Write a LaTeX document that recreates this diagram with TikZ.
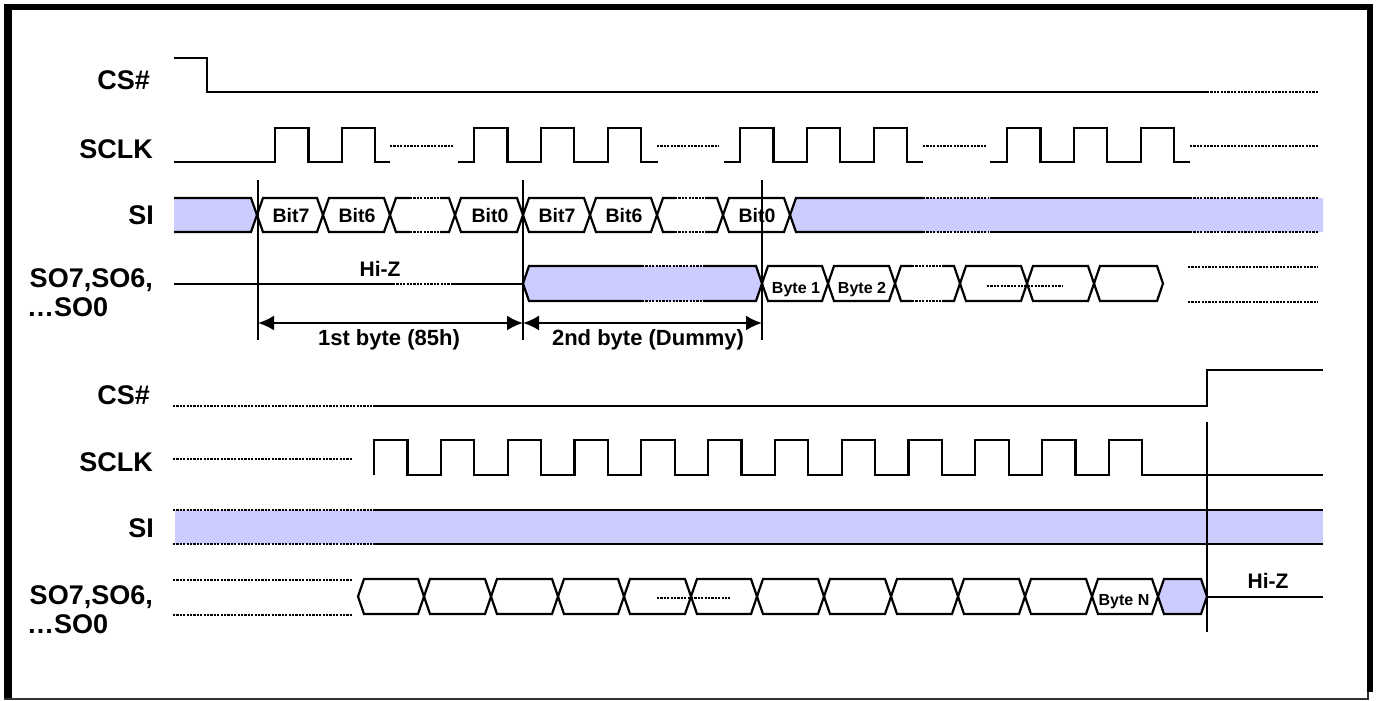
\documentclass[tikz,border=0pt]{standalone}
\usepackage{fontspec}
\setmainfont{Liberation Sans}
\usetikzlibrary{arrows.meta}
\definecolor{lav}{RGB}{204,204,255}
\tikzset{
  sig/.style={line width=2.2pt, line join=miter},
  dotsig/.style={line width=2.4pt, dash pattern=on 2.2pt off 1.2pt},
  lbl/.style={anchor=base east, font=\bfseries\fontsize{27}{30}\selectfont, inner sep=0pt},
  lblw/.style={anchor=base west, font=\bfseries\fontsize{27}{30}\selectfont, inner sep=0pt},
  bit/.style={anchor=base, font=\bfseries\fontsize{19.5}{22}\selectfont, inner sep=0pt},
  byt/.style={anchor=base, font=\bfseries\fontsize{16}{18}\selectfont, inner sep=0pt},
  hiz/.style={anchor=base, font=\bfseries\fontsize{21}{24}\selectfont, inner sep=0pt},
  dimtxt/.style={anchor=base, font=\bfseries\fontsize{22}{25}\selectfont, inner sep=0pt},
  marker/.style={line width=2pt},
  dimarrow/.style={line width=2.2pt, {Latex[length=16pt,width=15pt]}-{Latex[length=16pt,width=15pt]}},
}
% hexagon: x1, x2, ymid, half height
\newcommand\Hx[4]{\draw[sig] (#1,#3) -- (#1+6,#3-#4) -- (#2-6,#3-#4) -- (#2,#3) -- (#2-6,#3+#4) -- (#1+6,#3+#4) -- cycle;}
% hexagon with dotted part on top and bottom: x1,x2,ymid,half,a,b
\newcommand\HxD[6]{%
  \draw[sig] (#5,#3-#4) -- (#1+6,#3-#4) -- (#1,#3) -- (#1+6,#3+#4) -- (#5,#3+#4);
  \draw[sig] (#6,#3-#4) -- (#2-6,#3-#4) -- (#2,#3) -- (#2-6,#3+#4) -- (#6,#3+#4);
  \draw[dotsig] (#5,#3-#4) -- (#6,#3-#4);
  \draw[dotsig] (#5,#3+#4) -- (#6,#3+#4);}
% filled hex
\newcommand\HxFill[4]{\fill[lav] (#1,#3) -- (#1+6,#3-#4) -- (#2-6,#3-#4) -- (#2,#3) -- (#2-6,#3+#4) -- (#1+6,#3+#4) -- cycle;}
% clock: start, first rise, n pulses, end, ylow, yhigh
\newcommand\Clk[6]{\draw[sig] (#1,#5) \foreach \k in {1,...,#3}{ -- ({#2+66.8*(\k-1)},#5) -- ({#2+66.8*(\k-1)},#6) -- ({#2+66.8*(\k-1)+33.4},#6) -- ({#2+66.8*(\k-1)+33.4},#5)} -- (#4,#5);}
\begin{document}
\begin{tikzpicture}[x=1pt,y=-1pt]
\useasboundingbox (0,0) rectangle (1377,701);
\fill[white] (0,0) rectangle (1377,701);
% frame
\fill[black] (4,4) rectangle (12,700);
\fill[black] (4,4) rectangle (1373,10);
\fill[black] (1367,4) rectangle (1373,692);
\draw[line width=2pt, black!80] (1368,692) -- (1368,699) -- (4,699);

% ===== labels =====
\node[lbl] (lcs1) at (150,90) {CS\#};
\node[lbl] (lsclk1) at (153,158) {SCLK};
\node[lbl] (lsi1) at (154,224) {SI};
\node[lbl] (lso1) at (153,287) {SO7,SO6,};
\node[lblw] (lsoo1) at (27,316) {…SO0};
\node[lbl] (lcs2) at (150,404) {CS\#};
\node[lbl] (lsclk2) at (153,471) {SCLK};
\node[lbl] (lsi2) at (154,537) {SI};
\node[lbl] (lso2) at (153,604) {SO7,SO6,};
\node[lblw] (lsoo2) at (27,633) {…SO0};

% ===== top CS# =====
\draw[sig] (174,58) -- (207,58) -- (207,92) -- (1207,92);
\draw[dotsig] (1207,92) -- (1318,92);

% ===== top SCLK =====
\Clk{174}{275}{2}{390}{162}{128}
\Clk{458}{474}{3}{658}{162}{128}
\Clk{724}{740}{3}{923}{162}{128}
\Clk{990}{1007}{3}{1190}{162}{128}
\draw[dotsig] (390,146) -- (453,146);
\draw[dotsig] (657,146) -- (719,146);
\draw[dotsig] (923,146) -- (987,146);
\draw[dotsig] (1190,146) -- (1318,146);

% ===== top SI =====
\fill[lav] (174,198) -- (251,198) -- (257,215) -- (251,232) -- (174,232) -- cycle;
\draw[sig] (174,198) -- (251,198) -- (257,215) -- (251,232) -- (174,232);
\fill[lav] (790,215) -- (796,198) -- (1323,198) -- (1323,232) -- (796,232) -- cycle;
\draw[sig] (923,198) -- (796,198) -- (790,215) -- (796,232) -- (923,232);
\draw[sig] (990,198) -- (1190,198);
\draw[sig] (990,232) -- (1190,232);
\draw[dotsig] (923,198) -- (988,198);
\draw[dotsig] (923,232) -- (988,232);
\draw[dotsig] (1190,198) -- (1318,198);
\draw[dotsig] (1190,232) -- (1318,232);
\Hx{257}{323}{215}{17}
\Hx{323}{390}{215}{17}
\HxD{390}{455}{215}{17}{410}{440}
\Hx{455}{523}{215}{17}
\Hx{523}{590}{215}{17}
\Hx{590}{657}{215}{17}
\HxD{657}{723}{215}{17}{675}{705}
\Hx{723}{790}{215}{17}
\node[bit] (b7a) at (291,222) {Bit7};
\node[bit] (b6a) at (357,222) {Bit6};
\node[bit] (b0a) at (490,222) {Bit0};
\node[bit] (b7b) at (557,222) {Bit7};
\node[bit] (b6b) at (624,222) {Bit6};
\node[bit] (b0b) at (757,222) {Bit0};

% ===== top SO =====
\draw[sig] (174,284) -- (393,284);
\draw[dotsig] (393,284) -- (452,284);
\draw[sig] (452,284) -- (523,284);
\HxFill{523}{762}{283.5}{17.5}
\HxD{523}{762}{283.5}{17.5}{642}{703}
\Hx{762}{828}{283.5}{17.5}
\Hx{828}{895}{283.5}{17.5}
\HxD{895}{960}{283.5}{17.5}{912}{942}
\Hx{960}{1027}{283.5}{17.5}
\Hx{1027}{1094}{283.5}{17.5}
\Hx{1094}{1163}{283.5}{17.5}
\draw[dotsig] (987,286) -- (1062,286);
\draw[dotsig] (1188,267) -- (1318,267);
\draw[dotsig] (1188,302) -- (1318,302);
\node[byt] (by1) at (796,293) {Byte 1};
\node[byt] (by2) at (862,293) {Byte 2};
\node[hiz] (hz1) at (380,276) {Hi-Z};

% markers and dimension arrows
\coordinate (m1t) at (258,180); \coordinate (m1b) at (258,340);
\coordinate (m2t) at (523,180); \coordinate (m2b) at (523,340);
\coordinate (m3t) at (762,180); \coordinate (m3b) at (762,340);
\draw[marker] (m1t) -- (m1b);
\draw[marker] (m2t) -- (m2b);
\draw[marker] (m3t) -- (m3b);
\coordinate (a1) at (258,323);
\coordinate (a2) at (523,323);
\coordinate (a3) at (762,323);
\draw[dimarrow] (a1) -- (a2);
\draw[dimarrow] (a2) -- (a3);
\node[dimtxt] (t1) at (389,345) {1st byte (85h)};
\node[dimtxt] (t2) at (648,345) {2nd byte (Dummy)};

% ===== bottom CS# =====
\draw[dotsig] (173,405.7) -- (372,405.7);
\draw[sig] (373,405.7) -- (1207,405.7) -- (1207,370) -- (1323,370);

% ===== bottom SCLK =====
\draw[dotsig] (173,458.7) -- (353,458.7);
\Clk{374}{374}{12}{1323}{475}{440}

% ===== bottom SI =====
\fill[lav] (175,510) rectangle (1323,544);
\draw[dotsig] (173,510) -- (372,510);
\draw[dotsig] (173,544) -- (372,544);
\draw[sig] (373,510) -- (1323,510);
\draw[sig] (373,544) -- (1323,544);

% ===== bottom SO =====
\draw[dotsig] (173,580) -- (353,580);
\draw[dotsig] (173,615) -- (353,615);
\foreach \a/\b in {358/424,424/491,491/558,558/624,624/691,691/757,757/824,824/891,891/958,958/1025,1025/1092,1092/1158}{\Hx{\a}{\b}{596.5}{17.5}}
\HxFill{1158}{1207}{596.5}{17.5}
\Hx{1158}{1207}{596.5}{17.5}
\draw[dotsig] (657,598) -- (730,598);
\node[byt] (byn) at (1124,605) {Byte N};
\coordinate (m4t) at (1207,422); \coordinate (m4b) at (1207,632);
\draw[marker] (m4t) -- (m4b);
\draw[sig] (1207,597) -- (1323,597);
\node[hiz] (hz2) at (1268,588) {Hi-Z};
\end{tikzpicture}
\end{document}
